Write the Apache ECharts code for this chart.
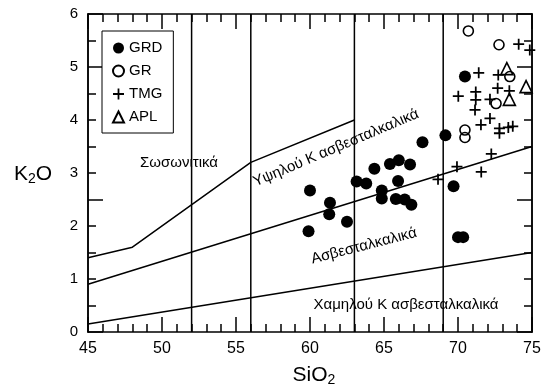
<!DOCTYPE html>
<html>
<head>
<meta charset="utf-8">
<script src="https://cdn.jsdelivr.net/npm/echarts@6/dist/echarts.min.js"></script>
<style>
  html, body { margin: 0; padding: 0; background: #fff; }
  #chart { width: 544px; height: 385px; }
</style>
</head>
<body>
<div id="chart"></div>
<script>
// SiO2 - K2O δεδομένα
var GRD = [[59.9,1.90],[60.0,2.67],[61.35,2.44],[61.3,2.22],[62.5,2.08],[63.15,2.84],[63.8,2.80],
  [64.35,3.08],[64.85,2.67],[64.85,2.52],[65.4,3.17],[66.0,3.24],[66.76,3.16],[65.95,2.85],
  [65.8,2.51],[66.4,2.50],[66.85,2.40],[67.6,3.58],[69.15,3.71],[69.7,2.75],[70.0,1.79],
  [70.35,1.79],[70.47,4.82]];
var GR = [[70.7,5.68],[72.77,5.42],[73.5,4.82],[72.57,4.31],[70.47,3.81],[70.47,3.67]];
var TMG = [[74.1,5.43],[74.85,5.32],[71.4,4.89],[72.72,4.85],[72.68,4.6],[70.02,4.45],[71.2,4.53],
  [71.2,4.38],[71.15,4.19],[73.47,4.55],[72.16,4.39],[72.16,4.03],[71.55,3.91],[72.8,3.84],
  [72.8,3.75],[73.4,3.86],[73.7,3.88],[68.65,2.88],[69.93,3.12],[71.57,3.02],[72.25,3.36]];
var APL = [[73.3,4.97],[74.6,4.63],[73.47,4.39]];

// όρια πεδίων (Peccerillo & Taylor)
var shoBoundary = [[45,1.4],[48,1.6],[56,3.2],[63,4.0]];
var highKBoundary = [[45,0.9],[75,3.5]];
var lowKBoundary = [[45,0.15],[75,1.5]];
var verticals = [52, 56, 63, 69];

var xTicks = [45, 50, 55, 60, 65, 70, 75];
var yTicks = [0, 1, 2, 3, 4, 5, 6];

var FONT = "'Liberation Sans', Arial, sans-serif";
var PLUS = 'path://M4.2,0h1.6v4.2h4.2v1.6h-4.2v4.2h-1.6v-4.2h-4.2v-1.6h4.2z';

var chart = echarts.init(document.getElementById('chart'));

function boundary(data) {
  return {
    type: 'line', data: data, symbol: 'none', silent: true, z: 1,
    lineStyle: { color: '#000', width: 1.5 }
  };
}

var series = [
  boundary(shoBoundary),
  boundary(highKBoundary),
  boundary(lowKBoundary)
];
verticals.forEach(function (v) {
  series.push(boundary([[v, 0], [v, 6]]));
});
series.push(
  { name: 'GRD', type: 'scatter', data: GRD, symbol: 'circle', symbolSize: 12, z: 3,
    itemStyle: { color: '#000', opacity: 1 } },
  { name: 'GR', type: 'scatter', data: GR, symbol: 'circle', symbolSize: 10, z: 3,
    itemStyle: { color: 'rgba(255,255,255,0)', borderColor: '#000', borderWidth: 1.6, opacity: 1 } },
  { name: 'TMG', type: 'scatter', data: TMG, symbol: PLUS, symbolSize: 11, z: 3,
    itemStyle: { color: '#000', opacity: 1 } },
  { name: 'APL', type: 'scatter', data: APL, symbol: 'triangle', symbolSize: 12, z: 3,
    itemStyle: { color: 'rgba(255,255,255,0)', borderColor: '#000', borderWidth: 1.6, opacity: 1 } }
);

function xAx(pos, labels) {
  return {
    type: 'value', position: pos, min: xTicks[0], max: xTicks[xTicks.length - 1], interval: 5,
    axisLine: { show: true, onZero: false, lineStyle: { color: '#000', width: 1.5 } },
    axisTick: { show: true, inside: true, length: 15, lineStyle: { color: '#000', width: 1.5 } },
    minorTick: { show: true, splitNumber: 5, length: 8, lineStyle: { color: '#000', width: 1.5 } },
    splitLine: { show: false },
    axisLabel: { show: labels, color: '#000', fontSize: 16, fontFamily: FONT, margin: 9 }
  };
}
function yAx(pos, step, len, labels) {
  return {
    type: 'value', position: pos, min: yTicks[0], max: yTicks[yTicks.length - 1], interval: step,
    axisLine: { show: true, onZero: false, lineStyle: { color: '#000', width: 1.5 } },
    axisTick: { show: true, inside: true, length: len, lineStyle: { color: '#000', width: 1.5 } },
    splitLine: { show: false },
    axisLabel: {
      show: labels, color: '#000', fontSize: 15, fontFamily: FONT, margin: 10,
      formatter: function (v) { return yTicks.indexOf(v) >= 0 ? String(v) : ''; }
    }
  };
}

var option = {
  animation: false,
  backgroundColor: '#fff',
  grid: { left: 88, right: 12, top: 14, bottom: 53 },
  xAxis: [xAx('bottom', true), xAx('top', false)],
  yAxis: [yAx('left', 0.5, 8, true), yAx('left', 2.5, 15, false),
          yAx('right', 0.5, 8, false), yAx('right', 2.5, 15, false)],
  legend: {
    data: ['GRD', 'GR', 'TMG', 'APL'],
    orient: 'vertical', left: 102, top: 31,
    itemWidth: 11, itemHeight: 11, itemGap: 7,
    padding: [9, 11, 8, 10],
    borderColor: '#000', borderWidth: 1, backgroundColor: '#fff',
    textStyle: { color: '#000', fontSize: 15, fontFamily: FONT, lineHeight: 16 }
  },
  graphic: [
    { type: 'text', x: 179, y: 163, style: { text: 'Σωσωνιτικά', font: '15px ' + FONT, fill: '#000', align: 'center', verticalAlign: 'middle' } },
    { type: 'text', x: 336, y: 148, rotation: 0.4, style: { text: 'Υψηλού Κ ασβεσταλκαλικά', font: '15px ' + FONT, fill: '#000', align: 'center', verticalAlign: 'middle' } },
    { type: 'text', x: 364, y: 246, rotation: 0.25, style: { text: 'Ασβεσταλκαλικά', font: '15px ' + FONT, fill: '#000', align: 'center', verticalAlign: 'middle' } },
    { type: 'text', x: 406, y: 305, style: { text: 'Χαμηλού Κ ασβεσταλκαλικά', font: '15px ' + FONT, fill: '#000', align: 'center', verticalAlign: 'middle' } },
    { type: 'text', x: 33, y: 174, style: {
        text: '{a|K}{b|2}{a|O}', align: 'center', verticalAlign: 'middle',
        rich: { a: { fontSize: 21, fontFamily: FONT, fill: '#000' },
                b: { fontSize: 14, fontFamily: FONT, fill: '#000', padding: [10, 0, 0, 0] } } } },
    { type: 'text', x: 314, y: 375, style: {
        text: '{a|SiO}{b|2}', align: 'center', verticalAlign: 'middle',
        rich: { a: { fontSize: 21, fontFamily: FONT, fill: '#000' },
                b: { fontSize: 14, fontFamily: FONT, fill: '#000', padding: [10, 0, 0, 0] } } } }
  ],
  series: series
};
chart.setOption(option);
</script>
</body>
</html>
